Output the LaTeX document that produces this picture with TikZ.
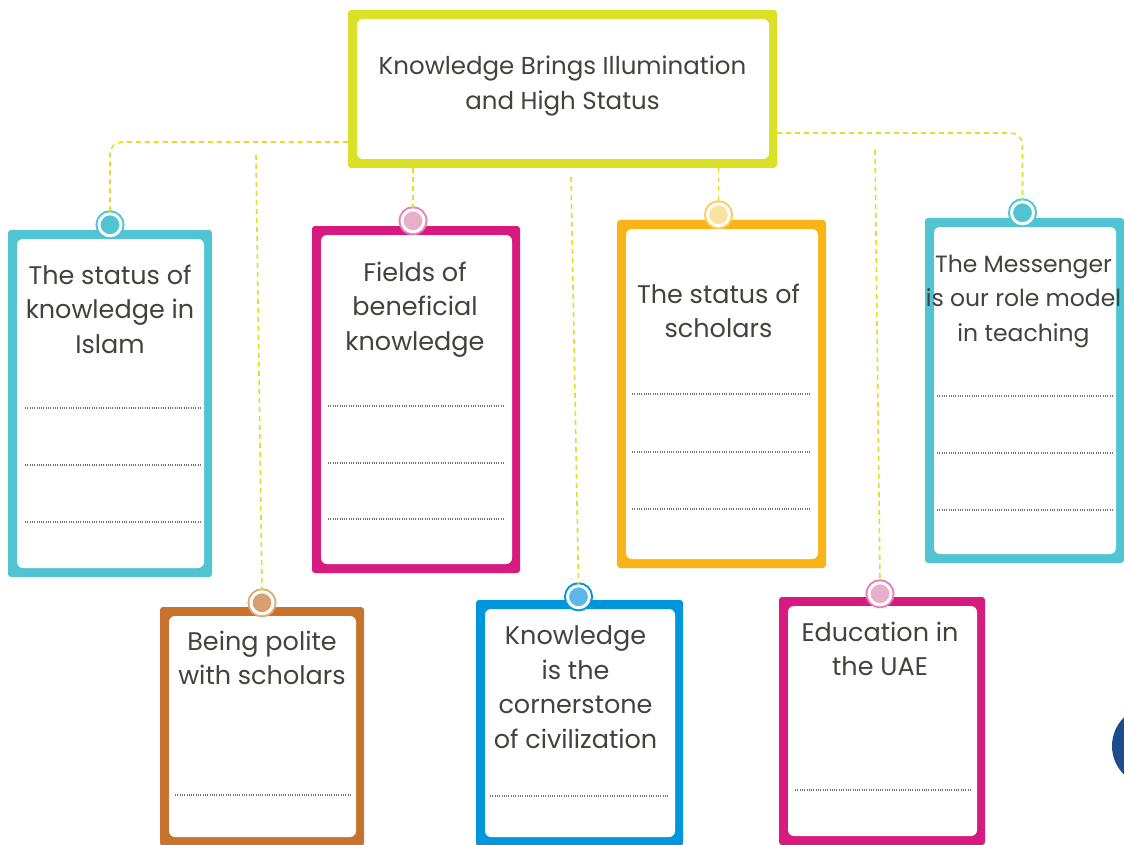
\documentclass[tikz,border=0pt]{standalone}
\usepackage{fontspec}
\setmainfont{Poppins}
\usetikzlibrary{positioning}

\definecolor{titlelime}{RGB}{218,225,38}
\definecolor{cardcyan}{RGB}{80,196,210}
\definecolor{cardpink}{RGB}{214,26,128}
\definecolor{cardorange}{RGB}{251,180,22}
\definecolor{cardbrown}{RGB}{200,115,45}
\definecolor{cardblue}{RGB}{0,150,220}
\definecolor{dotpink}{RGB}{232,175,200}
\definecolor{dotyellow}{RGB}{250,226,160}
\definecolor{dottan}{RGB}{215,160,110}
\definecolor{dotblue}{RGB}{92,184,234}
\definecolor{ink}{RGB}{66,66,62}
\definecolor{navyblob}{RGB}{30,75,140}

\tikzset{
  card/.style={fill=#1, rounded corners=3pt, inner sep=0pt,
    path picture={\fill[white, rounded corners=6pt]
      ([shift={(9pt,-9pt)}]path picture bounding box.north west) rectangle
      ([shift={(-8pt,9pt)}]path picture bounding box.south east);}},
  tack/.style 2 args={circle, fill=#2, draw=white, line width=3pt,
    minimum size=22pt, inner sep=0pt, preaction={draw=#1, line width=7pt}},
  cardtext/.style={text=ink, align=center, inner sep=0pt,
    font=\fontsize{25.5}{34.5}\selectfont},
  link/.style={draw=titlelime, line width=1.6pt, dash pattern=on 5pt off 4pt},
  writeline/.style={draw=gray!90!black, line width=1.2pt, dash pattern=on 1pt off 1.3pt},
}

\begin{document}
\begin{tikzpicture}[x=1pt, y=-1pt]
    \useasboundingbox (0,0) rectangle (1124,845);

    % define nodes
    \node[card=titlelime, minimum width=429pt, minimum height=158pt] (title) at (562.5,89) {};
    \node[cardtext, font=\fontsize{24.5}{34.5}\selectfont, below=46pt of title.north] (title-text) {Knowledge Brings Illumination\\and High Status};

    \node[card=cardcyan, minimum width=204pt, minimum height=347pt] (islam) at (110,403.5) {};
    \node[card=cardpink, minimum width=208pt, minimum height=347pt] (fields) at (416,399.5) {};
    \node[card=cardorange, minimum width=209pt, minimum height=348pt] (scholars) at (721.5,394) {};
    \node[card=cardcyan, minimum width=199pt, minimum height=345pt] (messenger) at (1024.5,390.5) {};
    \node[card=cardbrown, minimum width=204pt, minimum height=239pt] (polite) at (262,726.5) {};
    \node[card=cardblue, minimum width=207pt, minimum height=246pt] (civil) at (579.5,723) {};
    \node[card=cardpink, minimum width=206pt, minimum height=248pt] (uae) at (882,721) {};

    \node[cardtext, below=35pt of islam.north] (islam-text) {The status of\\knowledge in\\Islam};
    \node[cardtext, below=36pt of fields.north, xshift=-1pt] (fields-text) {Fields of\\beneficial\\knowledge};
    \node[cardtext, below=64pt of scholars.north, xshift=-3pt] (scholars-text) {The status of\\scholars};
    \node[cardtext, font=\fontsize{23.5}{34.5}\selectfont, below=37pt of messenger.north, xshift=-1pt] (messenger-text) {The Messenger\\is our role model\\in teaching};
    \node[cardtext, below=24pt of polite.north] (polite-text) {Being polite\\with scholars};
    \node[cardtext, below=26pt of civil.north, xshift=-4pt] (civil-text) {Knowledge\\is the\\cornerstone\\of civilization};
    \node[cardtext, below=25pt of uae.north, xshift=-2pt] (uae-text) {Education in\\the UAE};

    \node[tack={cardcyan}{cardcyan}] (islam-tack) at ([yshift=5pt]islam.north) {};
    \node[tack={cardpink!55}{dotpink}] (fields-tack) at ([xshift=-3pt, yshift=5pt]fields.north) {};
    \node[tack={cardorange!70}{dotyellow}] (scholars-tack) at ([xshift=-3pt, yshift=5pt]scholars.north) {};
    \node[tack={cardcyan}{cardcyan}] (messenger-tack) at ([xshift=-2pt, yshift=5pt]messenger.north) {};
    \node[tack={cardbrown!60}{dottan}] (polite-tack) at ([yshift=4pt]polite.north) {};
    \node[tack={cardblue}{dotblue}] (civil-tack) at ([xshift=-1pt, yshift=3pt]civil.north) {};
    \node[tack={cardpink!55}{dotpink}] (uae-tack) at ([xshift=-2pt, yshift=3pt]uae.north) {};

    \coordinate (polite-top) at (256,155);
    \coordinate (civil-top) at (571,177);
    \coordinate (uae-top) at (875,150);

    % writing lines
    \foreach \y in {408,465,522} \draw[writeline] (25,\y) -- (200,\y);
    \foreach \y in {406,463,519} \draw[writeline] (328,\y) -- (505,\y);
    \foreach \y in {394,452,509} \draw[writeline] (632,\y) -- (810,\y);
    \foreach \y in {396,453,510} \draw[writeline] (937,\y) -- (1113,\y);
    \draw[writeline] (175,795) -- (352,795);
    \draw[writeline] (490,796) -- (668,796);
    \draw[writeline] (795,790) -- (972,790);

    % connect the nodes
    \draw[link, rounded corners=12pt] ([yshift=-53pt]title.west) -| (islam-tack.north);
    \draw[link, rounded corners=12pt] ([yshift=-44pt]title.east) -| (messenger-tack.north);
    \draw[link] (fields-tack.north |- title.south) -- (fields-tack.north);
    \draw[link] (scholars-tack.north |- title.south) -- (scholars-tack.north);
    \draw[link] (polite-top) -- (polite-tack.north);
    \draw[link] (civil-top) -- (civil-tack.north);
    \draw[link] (uae-top) -- (uae-tack.north);

    % page edge
    \begin{scope}
      \clip (0,0) rectangle (1124,845);
      \fill[navyblob] (1152,746) circle (40);
    \end{scope}

\end{tikzpicture}
\end{document}
